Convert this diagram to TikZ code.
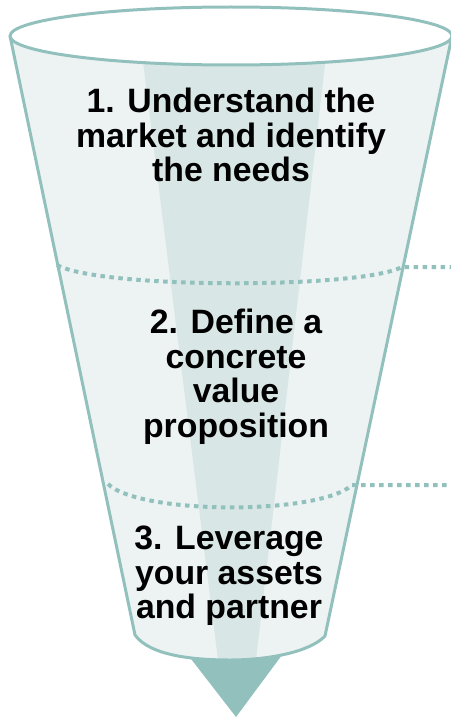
\documentclass[tikz,border=0pt]{standalone}
\usepackage{fontspec}
\setmainfont{Liberation Sans}
\usepackage{tikz}
\usetikzlibrary{positioning}

\definecolor{funnelteal}{HTML}{92C1BD}
\definecolor{funnelfill}{HTML}{EDF3F3}
\definecolor{funnelband}{HTML}{D8E7E6}

\begin{document}
\begin{tikzpicture}[
        x=1pt, y=-1pt,
        edge/.style={draw=funnelteal, line width=3pt, line join=round},
        dotline/.style={draw=funnelteal, line width=4pt, dash pattern=on 4.5pt off 4.5pt},
        steptext/.style={font=\bfseries\fontsize{33.8}{34.5}\selectfont, align=center, inner sep=0pt}
    ]
        \useasboundingbox (0,0) rectangle (450,717);

        % Define corners
        \coordinate (tl) at (10,36);
        \coordinate (tr) at (452,36);
        \coordinate (bl) at (135,635);
        \coordinate (br) at (325,636);
        \coordinate (tip) at (236,717);
        \coordinate (d1l) at (57,265);
        \coordinate (d1r) at (402,267);
        \coordinate (d1e) at (452,267);
        \coordinate (d2l) at (108,484);
        \coordinate (d2r) at (352,485);
        \coordinate (d2e) at (452,485);

        % Pointer below the funnel
        \fill[funnelteal] (188,655) -- (282,655) -- (tip) -- cycle;

        % Funnel body
        \fill[funnelfill] (tl) -- (bl) .. controls (150,656) and (195,660) .. (230,660)
            .. controls (268,660) and (310,652) .. (br) -- (tr) -- cycle;
        \begin{scope}
            \clip (tl) -- (bl) .. controls (150,656) and (195,660) .. (230,660)
                .. controls (268,660) and (310,652) .. (br) -- (tr) -- cycle;
            \fill[funnelband] (139,30) -- (329,30) -- (256,660) -- (218,660) -- cycle;
        \end{scope}
        \draw[edge] (tl) -- (bl) .. controls (150,656) and (195,660) .. (230,660)
            .. controls (268,660) and (310,652) .. (br) -- (tr);

        % Dotted dividers
        \draw[dotline] (d1l) .. controls (100,289) and (360,289) .. (d1r) -- (d1e);
        \draw[dotline] (d2l) .. controls (140,515) and (320,515) .. (d2r) -- (d2e);

        % Rim
        \draw[edge, fill=white] (231,36) ellipse [x radius=221, y radius=29];

        % Define nodes
        \node[steptext] (step1) at (231,135) {1. Understand the\\market and identify\\the needs};
        \node[steptext] (step2) at (236,377) {2. Define a\\concrete\\value\\proposition};
        \node[steptext] (step3) at (229,576) {3. Leverage\\your assets\\and partner};
\end{tikzpicture}
\end{document}
